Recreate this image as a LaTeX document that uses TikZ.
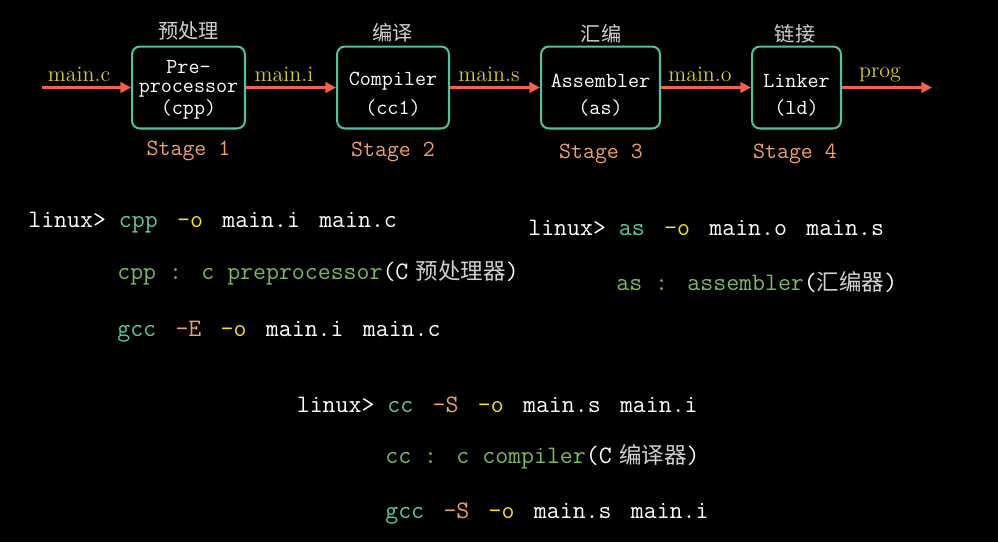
\documentclass[tikz,border=0pt]{standalone}
\usepackage{fontspec}
\newfontfamily\cjk{Noto Sans CJK SC}
\usetikzlibrary{arrows.meta}

\definecolor{boxteal}{HTML}{52C0A2}
\definecolor{cmdteal}{HTML}{5CC8A8}
\definecolor{flowred}{HTML}{F4604E}
\definecolor{lblyellow}{HTML}{D8D024}
\definecolor{optyellow}{HTML}{F5E21E}
\definecolor{stageorange}{HTML}{F0A06C}
\definecolor{descgreen}{HTML}{7DB862}
\definecolor{cjkgrey}{HTML}{D0D0D0}

\newcommand{\tgap}{\hspace{0.77em}}
\newcommand{\cmd}[1]{\textcolor{cmdteal}{#1}}
\newcommand{\opt}[1]{\textcolor{optyellow}{#1}}
\newcommand{\flag}[1]{\textcolor{stageorange}{#1}}
\newcommand{\desc}[1]{\textcolor{descgreen}{#1}}
\newcommand{\zh}[1]{{\color{cjkgrey}\cjk\fontsize{12.8}{15}\selectfont #1}}

\begin{document}
\begin{tikzpicture}[x=0.02cm, y=-0.02cm,
  stagebox/.style={draw=boxteal, line width=1.15pt, rounded corners=4.5pt, minimum height=1.64cm, inner sep=0pt},
  boxtext/.style={text=white, align=center, inner sep=0pt, font=\ttfamily\fontsize{12.2}{11}\selectfont},
  flow/.style={draw=flowred, line width=1.4pt, -{Triangle[length=6pt,width=6pt]}},
  filelabel/.style={text=lblyellow, anchor=base, inner sep=0pt, font=\fontsize{12.5}{14}\selectfont},
  zhtitle/.style={text=cjkgrey, inner sep=0pt, font=\cjk\fontsize{11.5}{13}\selectfont},
  stagelabel/.style={text=stageorange, inner sep=0pt, font=\ttfamily\fontsize{13.2}{15}\selectfont},
  cmdline/.style={text=white, anchor=base west, inner sep=0pt, font=\ttfamily\fontsize{14.3}{17}\selectfont}]
\fill[black] (0,0) rectangle (998,542);

\node[stagebox, minimum width=2.26cm] (pre) at (188.5,87.5) {};
\node[stagebox, minimum width=2.24cm] (comp) at (393,87.5) {};
\node[stagebox, minimum width=2.38cm] (asm) at (600.5,87.5) {};
\node[stagebox, minimum width=1.78cm] (link) at (796.5,87.5) {};

\node[boxtext] (pretext) at (188.5,89.5) {Pre-\\processor\\(cpp)};
\node[boxtext] (comptext) at (393,94.5) {Compiler\\[4.5pt](cc1)};
\node[boxtext] (asmtext) at (600.5,95) {Assembler\\[4.5pt](as)};
\node[boxtext] (linktext) at (796.5,95) {Linker\\[4.5pt](ld)};

\coordinate (src) at (42,87.5);
\coordinate (sink) at (932,87.5);
\draw[flow] (src) -- (pre.west);
\draw[flow] (pre.east) -- (comp.west);
\draw[flow] (comp.east) -- (asm.west);
\draw[flow] (asm.east) -- (link.west);
\draw[flow] (link.east) -- (sink);

\node[filelabel] (fc) at (79,81) {main.c};
\node[filelabel] (fi) at (284,81) {main.i};
\node[filelabel] (fs) at (489,81) {main.s};
\node[filelabel] (fo) at (700,81) {main.o};
\node[filelabel] (fp) at (880,77) {prog};

\node[zhtitle] (zpre) at (188.5,31) {预处理};
\node[zhtitle] (zcomp) at (392.5,32.5) {编译};
\node[zhtitle] (zasm) at (601,34) {汇编};
\node[zhtitle] (zlink) at (795,34) {链接};

\node[stagelabel] (s1) at (188.5,151) {Stage 1};
\node[stagelabel] (s2) at (393,151.5) {Stage 2};
\node[stagelabel] (s3) at (601,154) {Stage 3};
\node[stagelabel] (s4) at (795,154) {Stage 4};

\node[cmdline] (cpp1) at (28,227) {linux> \cmd{cpp}\tgap\opt{-o}\tgap main.i\tgap main.c};
\node[cmdline] (cpp2) at (117,279) {\desc{cpp :\tgap c preprocessor}(C\hspace{0.3em}\zh{预处理器})};
\node[cmdline] (cpp3) at (117,336) {\cmd{gcc}\tgap\flag{-E}\tgap\opt{-o}\tgap main.i\tgap main.c};

\node[cmdline] (as1) at (528,235) {linux> \cmd{as}\tgap\opt{-o}\tgap main.o\tgap main.s};
\node[cmdline] (as2) at (616,290) {\desc{as :\tgap assembler}(\zh{汇编器})};

\node[cmdline] (cc1) at (296.5,412) {linux> \cmd{cc}\tgap\flag{-S}\tgap\opt{-o}\tgap main.s\tgap main.i};
\node[cmdline] (cc2) at (385,463) {\desc{cc :\tgap c compiler}(C\hspace{0.3em}\zh{编译器})};
\node[cmdline] (cc3) at (385,518) {\cmd{gcc}\tgap\flag{-S}\tgap\opt{-o}\tgap main.s\tgap main.i};
\end{tikzpicture}
\end{document}
